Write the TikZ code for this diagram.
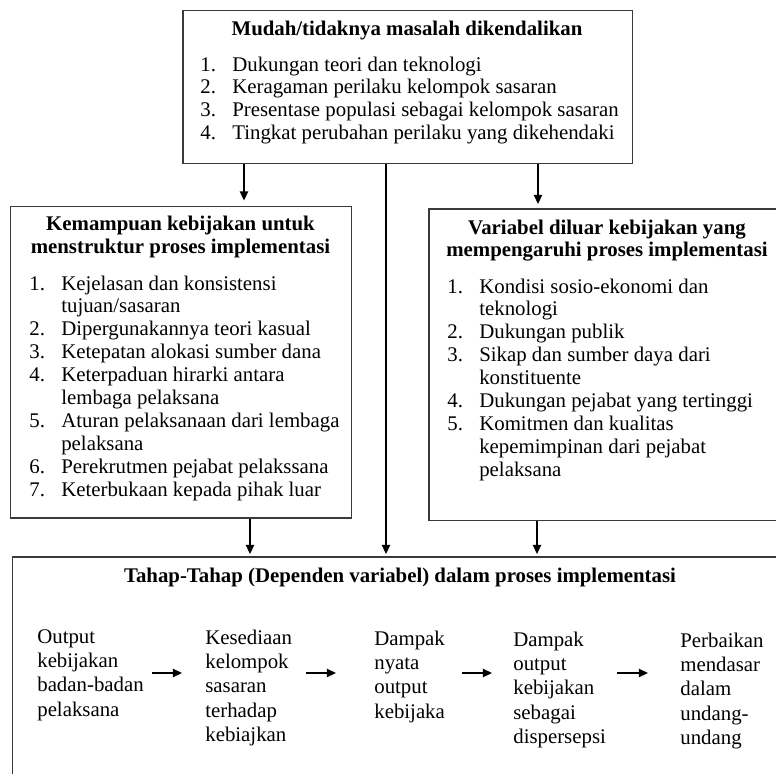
\documentclass[tikz,border=0pt]{standalone}
\usepackage{fontspec}
\setmainfont{Liberation Serif}
\usepackage{tikz}
\usetikzlibrary{calc,arrows.meta}
\definecolor{boxline}{HTML}{3A3A3A}
\colorlet{arrowline}{black}
\newcommand{\fs}{\fontsize{12.5}{13.75}\selectfont}
\newcommand{\itm}[2]{\par\noindent\hangindent=19.2pt\hangafter=1\makebox[19.2pt][l]{#1}#2}
\tikzstyle{mybox} = [
    draw=boxline,
    line width=0.9pt,
    rectangle,
    inner sep=0pt,
    anchor=north west
    ]
\tikzstyle{boxtitle} = [inner sep=0pt, anchor=base, font=\fs\bfseries]
\tikzstyle{itemlist} = [inner sep=0pt, anchor=base west, font=\fs]
\tikzstyle{stage} = [inner sep=0pt, anchor=base west, font=\fontsize{12.5}{14.64}\selectfont]
\tikzstyle{arr} = [-{Triangle[length=5.5pt,width=5pt]}, line width=0.9pt, draw=arrowline]

\begin{document}
\begin{tikzpicture}[x=0.6pt, y=-0.6pt]
\useasboundingbox (0,0) rectangle (776,774);
\clip (0,0) rectangle (776,774);

% boxes
\node[mybox, minimum width=270pt, minimum height=91.8pt] (masalah) at (182,10) {};
\node[mybox, minimum width=204.6pt, minimum height=187.2pt] (struktur) at (10,205.5) {};
\node[mybox, minimum width=214.8pt, minimum height=187.2pt] (luar) at (428,208) {};
\node[mybox, minimum width=465.6pt, minimum height=141pt] (tahap) at (12,556) {};

% titles
\node[boxtitle] (masalahT) at (407,35) {Mudah/tidaknya masalah dikendalikan};
\node[boxtitle] (strukturT) at (180.5,231) {%
    \begin{minipage}[t]{204pt}\centering
    Kemampuan kebijakan untuk\\
    menstruktur proses implementasi
    \end{minipage}};
\node[boxtitle] (luarT) at (607,234) {%
    \begin{minipage}[t]{214pt}\centering
    Variabel diluar kebijakan yang\\
    mempengaruhi proses implementasi
    \end{minipage}};
\node[boxtitle] (tahapT) at (400,582) {Tahap-Tahap (Dependen variabel) dalam proses implementasi};

% lists
\node[itemlist] (masalahL) at (200,71) {%
    \begin{minipage}[t]{262pt}\raggedright
    \itm{1.}{Dukungan teori dan teknologi}
    \itm{2.}{Keragaman perilaku kelompok sasaran}
    \itm{3.}{Presentase populasi sebagai kelompok sasaran}
    \itm{4.}{Tingkat perubahan perilaku yang dikehendaki}
    \end{minipage}};
\node[itemlist] (strukturL) at (29,290) {%
    \begin{minipage}[t]{200pt}\raggedright
    \itm{1.}{Kejelasan dan konsistensi\newline tujuan/sasaran}
    \itm{2.}{Dipergunakannya teori kasual}
    \itm{3.}{Ketepatan alokasi sumber dana}
    \itm{4.}{Keterpaduan hirarki antara\newline lembaga pelaksana}
    \itm{5.}{Aturan pelaksanaan dari lembaga\newline pelaksana}
    \itm{6.}{Perekrutmen pejabat pelakssana}
    \itm{7.}{Keterbukaan kepada pihak luar}
    \end{minipage}};
\node[itemlist] (luarL) at (447,293) {%
    \begin{minipage}[t]{200pt}\raggedright
    \itm{1.}{Kondisi sosio-ekonomi dan\newline teknologi}
    \itm{2.}{Dukungan publik}
    \itm{3.}{Sikap dan sumber daya dari\newline konstituente}
    \itm{4.}{Dukungan pejabat yang tertinggi}
    \itm{5.}{Komitmen dan kualitas\newline kepemimpinan dari pejabat\newline pelaksana}
    \end{minipage}};

% stages
\node[stage] (s1) at (37,643) {%
    \begin{minipage}[t]{90pt}\raggedright
    Output\\ kebijakan\\ badan-badan\\ pelaksana
    \end{minipage}};
\node[stage] (s2) at (205,644) {%
    \begin{minipage}[t]{90pt}\raggedright
    Kesediaan\\ kelompok\\ sasaran\\ terhadap\\ kebiajkan
    \end{minipage}};
\node[stage] (s3) at (374,645) {%
    \begin{minipage}[t]{90pt}\raggedright
    Dampak\\ nyata\\ output\\ kebijaka
    \end{minipage}};
\node[stage] (s4) at (513,646) {%
    \begin{minipage}[t]{90pt}\raggedright
    Dampak\\ output\\ kebijakan\\ sebagai\\ dispersepsi
    \end{minipage}};
\node[stage] (s5) at (680,647) {%
    \begin{minipage}[t]{90pt}\raggedright
    Perbaikan\\ mendasar\\ dalam\\ undang-\\ undang
    \end{minipage}};

% vertical connectors
\coordinate (xa) at (244,0);
\coordinate (xm) at (386,0);
\coordinate (xb) at (538,0);
\coordinate (xc) at (250,0);
\coordinate (xd) at (537,0);
\draw[arr, shorten >=3pt] (masalah.south -| xa) -- (struktur.north -| xa);
\draw[arr, shorten >=2.4pt] (masalah.south -| xb) -- (luar.north -| xb);
\draw[arr, shorten >=1.2pt] (masalah.south -| xm) -- (tahap.north -| xm);
\draw[arr, shorten >=1.2pt] (struktur.south -| xc) -- (tahap.north -| xc);
\draw[arr, shorten >=1.2pt] (luar.south -| xd) -- (tahap.north -| xd);

% stage arrows
\coordinate (h1a) at (152,673); \coordinate (h1b) at (182,673);
\coordinate (h2a) at (306,673); \coordinate (h2b) at (336,673);
\coordinate (h3a) at (462,673); \coordinate (h3b) at (492,673);
\coordinate (h4a) at (617,673); \coordinate (h4b) at (648,673);
\draw[arr] (h1a) -- (h1b);
\draw[arr] (h2a) -- (h2b);
\draw[arr] (h3a) -- (h3b);
\draw[arr] (h4a) -- (h4b);
\end{tikzpicture}
\end{document}
